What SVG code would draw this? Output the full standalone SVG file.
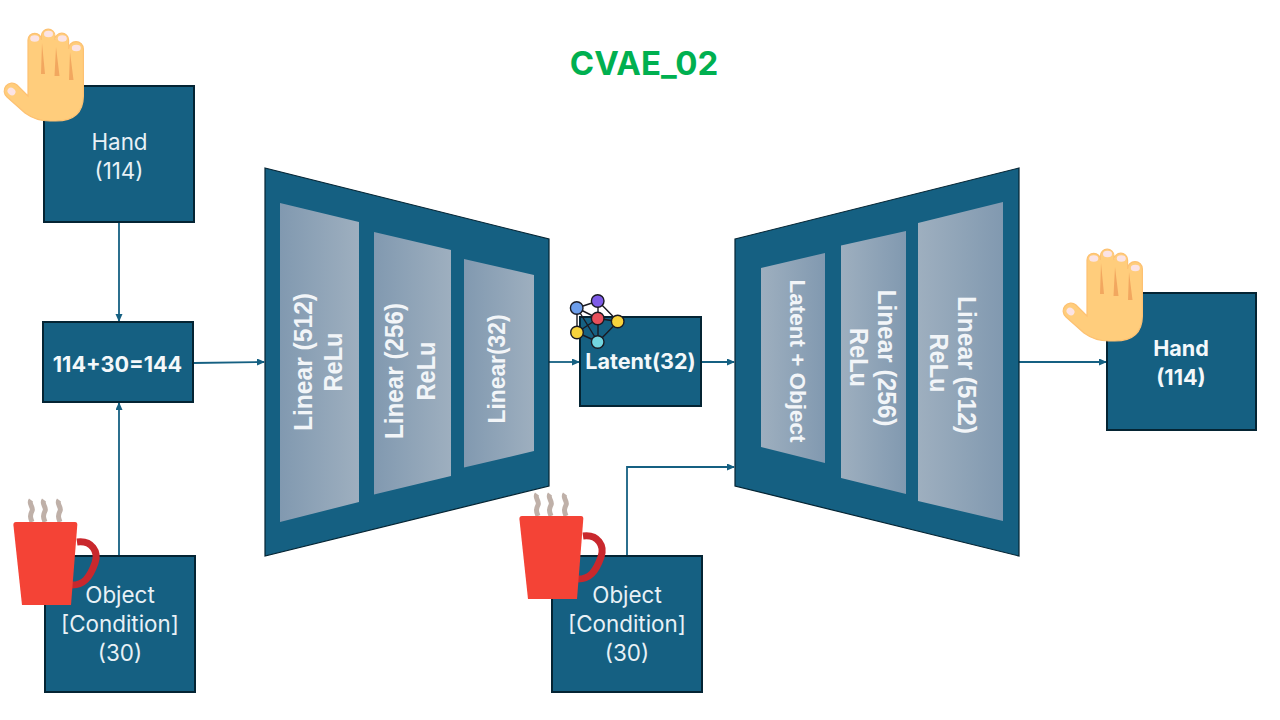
<svg xmlns="http://www.w3.org/2000/svg" width="1280" height="720" viewBox="0 0 1280 720">
<style>
.box{fill:#156082;stroke:#042433;stroke-width:2}
.trap{fill:#156082;stroke:#042433;stroke-width:1.2}
.t{font-family:"Inter","Liberation Sans",sans-serif;font-size:22.4px;fill:#e8f1f6;text-anchor:middle}
.b{font-family:"Inter","Liberation Sans",sans-serif;font-size:21.6px;font-weight:700;fill:#f4f8fa;text-anchor:middle}
.r{font-family:"Liberation Sans",sans-serif;font-weight:700;fill:#f2f5f8;text-anchor:middle}
.c{fill:none;stroke:#156082;stroke-width:1.8}
.mol{stroke:#1a1a22;stroke-width:1.4}
</style>
<defs>
<linearGradient id="gl" x1="0" x2="1" y1="0" y2="0"><stop offset="0" stop-color="#8199b0"/><stop offset="1" stop-color="#9eafbf"/></linearGradient>
<linearGradient id="gr" x1="0" x2="1" y1="0" y2="0"><stop offset="0" stop-color="#9eafbf"/><stop offset="1" stop-color="#8199b0"/></linearGradient>
<marker id="a" markerWidth="8" markerHeight="8" refX="7" refY="3.5" orient="auto" markerUnits="userSpaceOnUse"><path d="M0 0L8 3.5L0 7z" fill="#156082"/></marker>
<g id="hand">
<path d="M28 96V40a6.7 6.7 0 0 1 13.4 0 V36a6.8 6.8 0 0 1 13.6 0 V40a6.8 6.8 0 0 1 13.6 0 V49a7.4 7.4 0 0 1 14.8 0V96Q83 121 56 121H50Q36 121 25 113L7 97a7.2 7.2 0 0 1 10-12z" fill="#ffcd7c" stroke="#fdc172" stroke-width="1.2"/>
<ellipse cx="34.700" cy="38.500" rx="4.500" ry="3.200" fill="#fbe3e4"/><ellipse cx="48.500" cy="34" rx="4.500" ry="3.200" fill="#fbe3e4"/><ellipse cx="62.300" cy="38.500" rx="4.500" ry="3.200" fill="#fbe3e4"/><ellipse cx="76.300" cy="48" rx="4.500" ry="3.200" fill="#fbe3e4"/>
<ellipse cx="11.500" cy="91.500" rx="4.200" ry="3.500" transform="rotate(40 11.500 91.500)" fill="#fbe3e4"/>
<path d="M42 43L41 74H45zM56 47L54.500 76H59.500zM70 52L69 80H73.500z" fill="#f2a75f"/>
</g>
<g id="cup">
<path d="M31 500c-3 4 3 7 1 11s-2 6 0 11M44 500c-3 4 3 7 1 11s-2 6 0 11M59 500c-3 4 3 7 1 11s-2 6 0 11" fill="none" stroke="#bfb0a8" stroke-width="5"/>
<path d="M77 542C92 540 99 552 95 563C90 577 84 586 70 585" fill="none" stroke="#c9282d" stroke-width="7"/>
<path d="M16 522H75Q77.500 522 77.300 525L71 605H22L13.400 525Q13.300 522 16 522z" fill="#f44336"/>
</g>
<g id="mol">
<path class="mol" d="M577 308L598 301M577 308L598 318.500M598 301L598 318.500M598 301L618 321.500M577 308L577 332.500M577 308L598 342M598 318.500L618 321.500M598 318.500L577 332.500M598 318.500L598 342M618 321.500L598 342M577 332.500L598 342" fill="none"/>
<circle class="mol" cx="576.700" cy="308" r="6.300" fill="#6d9eeb"/><circle class="mol" cx="597.700" cy="301" r="6.300" fill="#7e5be8"/><circle class="mol" cx="597.700" cy="318.500" r="6.300" fill="#e8505b"/><circle class="mol" cx="617.700" cy="321.500" r="6.300" fill="#f7d33c"/><circle class="mol" cx="577" cy="332.500" r="6.300" fill="#f7d33c"/><circle class="mol" cx="597.700" cy="342" r="6.300" fill="#72d6e0"/>
</g>
</defs>
<rect width="1280" height="720" fill="#fff"/>
<text x="644" y="75" font-family="Inter,'Liberation Sans',sans-serif" font-size="33" font-weight="700" fill="#00b050" text-anchor="middle">CVAE_02</text>
<g id="connectors">
<path class="c" d="M119 222V321" marker-end="url(#a)"/>
<path class="c" d="M119 556V403" marker-end="url(#a)"/>
<path class="c" d="M193 363L264 362" marker-end="url(#a)"/>
<path class="c" d="M549 362H579" marker-end="url(#a)"/>
<path class="c" d="M701 362H734" marker-end="url(#a)"/>
<path class="c" d="M1019 362H1106" marker-end="url(#a)"/>
<path class="c" d="M627 556V467H734" marker-end="url(#a)"/>
</g>
<g id="hand-in"><rect class="box" x="44" y="86" width="150" height="136"/><use href="#hand"/><text class="t" x="119.500" y="150">Hand</text><text class="t" x="119" y="179">(114)</text></g>
<g id="concat"><rect class="box" x="43" y="322" width="150" height="80"/><text class="b" x="117.500" y="372">114+30=144</text></g>
<g id="object-1"><rect class="box" x="45" y="556" width="150" height="136"/><use href="#cup"/><text class="t" x="120" y="603">Object</text><text class="t" x="120" y="632">[Condition]</text><text class="t" x="120" y="661">(30)</text></g>
<g id="encoder"><path class="trap" d="M265 168L549 239V486L265 556z"/>
<path fill="url(#gl)" d="M280 203L359 222V502L280 522z"/><path fill="url(#gl)" d="M374 232L451 250V476L374 494.500z"/><path fill="url(#gl)" d="M464 259L534 275V451L464 467.500z"/>
<text class="r" font-size="26.500" textLength="138" lengthAdjust="spacingAndGlyphs" transform="translate(311.500 362) rotate(-90)">Linear (512)</text>
<text class="r" font-size="26.500" textLength="59" lengthAdjust="spacingAndGlyphs" transform="translate(341.700 362) rotate(-90)">ReLu</text>
<text class="r" font-size="26.500" textLength="136" lengthAdjust="spacingAndGlyphs" transform="translate(403 371) rotate(-90)">Linear (256)</text>
<text class="r" font-size="26.500" textLength="59" lengthAdjust="spacingAndGlyphs" transform="translate(434.500 371) rotate(-90)">ReLu</text>
<text class="r" font-size="23.500" textLength="109" lengthAdjust="spacingAndGlyphs" transform="translate(505 369) rotate(-90)">Linear(32)</text></g>
<g id="latent"><rect class="box" x="580" y="317" width="121" height="89"/><use href="#mol"/><text class="b" x="640.500" y="369">Latent(32)</text></g>
<g id="decoder"><path class="trap" d="M735 239L1019 168V556L735 486z"/>
<path fill="url(#gr)" d="M761 268L825 253V463L761 447z"/><path fill="url(#gr)" d="M841 245.500L906 231V494L841 478z"/><path fill="url(#gr)" d="M918 223L1003 202V521L918 501z"/>
<text class="r" font-size="22.500" textLength="163" lengthAdjust="spacingAndGlyphs" transform="translate(790 361) rotate(90)">Latent + Object</text>
<text class="r" font-size="26.500" textLength="59" lengthAdjust="spacingAndGlyphs" transform="translate(850 357.500) rotate(90)">ReLu</text>
<text class="r" font-size="26.500" textLength="137" lengthAdjust="spacingAndGlyphs" transform="translate(878 358) rotate(90)">Linear (256)</text>
<text class="r" font-size="26.500" textLength="59" lengthAdjust="spacingAndGlyphs" transform="translate(930 363) rotate(90)">ReLu</text>
<text class="r" font-size="26.500" textLength="138" lengthAdjust="spacingAndGlyphs" transform="translate(958 365) rotate(90)">Linear (512)</text></g>
<g id="object-2"><rect class="box" x="552" y="556" width="150" height="136"/><use href="#cup" transform="translate(506 -6)"/><text class="t" x="627" y="603">Object</text><text class="t" x="627" y="632">[Condition]</text><text class="t" x="627" y="661">(30)</text></g>
<g id="hand-out"><rect class="box" x="1107" y="293" width="149" height="137"/><use href="#hand" transform="translate(1059 220)"/><text class="b" x="1181" y="356">Hand</text><text class="b" x="1181" y="385">(114)</text></g>
</svg>
